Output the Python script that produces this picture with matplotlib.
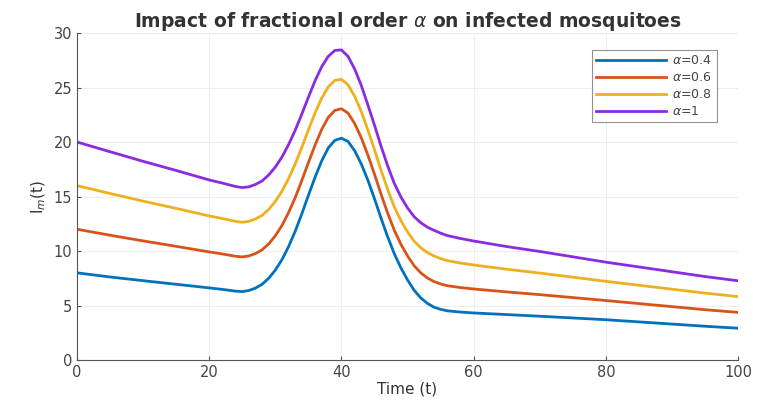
import matplotlib
matplotlib.use("Agg")
import matplotlib.pyplot as plt

# time points (finer around the peak)
t = [0, 5, 10, 15, 20, 22, 24, 25, 26, 27, 28, 29, 30, 31, 32, 33, 34, 35, 36, 37,
     38, 39, 40, 41, 42, 43, 44, 45, 46, 47, 48, 49, 50, 51, 52, 53, 54, 55, 56, 58,
     60, 65, 70, 75, 80, 85, 90, 95, 100]

im_04 = [8.0, 7.62, 7.28, 6.95, 6.62, 6.48, 6.32, 6.28, 6.38, 6.6, 6.95, 7.5, 8.25, 9.2,
         10.4, 11.8, 13.4, 15.1, 16.75, 18.25, 19.45, 20.15, 20.35, 20.05, 19.2, 18.0,
         16.5, 14.8, 13.0, 11.3, 9.75, 8.45, 7.35, 6.4, 5.7, 5.2, 4.85, 4.65, 4.52, 4.4,
         4.32, 4.17, 4.02, 3.86, 3.7, 3.5, 3.3, 3.1, 2.92]
im_06 = [12.0, 11.45, 10.93, 10.43, 9.92, 9.73, 9.52, 9.46, 9.55, 9.77, 10.11, 10.66,
         11.4, 12.34, 13.52, 14.89, 16.45, 18.1, 19.7, 21.13, 22.25, 22.9, 23.05, 22.65,
         21.7, 20.4, 18.8, 17.05, 15.2, 13.47, 11.9, 10.62, 9.55, 8.65, 8.0, 7.53, 7.2,
         6.98, 6.82, 6.65, 6.52, 6.25, 6.0, 5.73, 5.46, 5.18, 4.9, 4.62, 4.37]
im_08 = [16.0, 15.28, 14.58, 13.91, 13.22, 12.98, 12.72, 12.64, 12.72, 12.94, 13.27,
         13.82, 14.55, 15.48, 16.64, 17.98, 19.5, 21.1, 22.65, 24.01, 25.05, 25.65, 25.75,
         25.25, 24.2, 22.8, 21.1, 19.3, 17.4, 15.64, 14.05, 12.79, 11.75, 10.9, 10.3, 9.86,
         9.55, 9.31, 9.12, 8.9, 8.72, 8.33, 7.98, 7.6, 7.22, 6.86, 6.5, 6.14, 5.82]
im_10 = [20.0, 19.11, 18.23, 17.39, 16.52, 16.23, 15.92, 15.82, 15.89, 16.11, 16.43,
         16.98, 17.7, 18.62, 19.76, 21.07, 22.55, 24.1, 25.6, 26.89, 27.85, 28.4, 28.45,
         27.85, 26.7, 25.2, 23.4, 21.55, 19.6, 17.81, 16.2, 14.96, 13.95, 13.15, 12.6,
         12.19, 11.9, 11.64, 11.42, 11.15, 10.92, 10.41, 9.96, 9.47, 8.98, 8.54, 8.1,
         7.66, 7.27]

series = [im_04, im_06, im_08, im_10]
labels = [r'$\alpha$=0.4', r'$\alpha$=0.6', r'$\alpha$=0.8', r'$\alpha$=1']
colors = ['#0072BD', '#D95319', '#EDB120', '#8A2BE2']

fig = plt.figure(figsize=(7.57, 4.05), dpi=100)
ax = fig.add_axes([0.1017, 0.111, 0.8733, 0.8075])

for y, lab, c in zip(series, labels, colors):
    ax.plot(t, y, color=c, lw=2, label=lab)

ax.set_xlim(0, 100)
ax.set_ylim(0, 30)
ax.set_xticks([0, 20, 40, 60, 80, 100])
ax.set_yticks([0, 5, 10, 15, 20, 25, 30])
ax.grid(True, color='#ededed', lw=0.8)
ax.set_axisbelow(True)
for s in ['top', 'right']:
    ax.spines[s].set_visible(False)
for s in ['left', 'bottom']:
    ax.spines[s].set_color('#555555')
ax.tick_params(direction='in', length=3, colors='#555555', labelsize=10.5,
               labelcolor='#444444')

ax.set_title(r'Impact of fractional order $\alpha$ on infected mosquitoes',
             fontsize=13.5, fontweight='bold', color='#333333', pad=4)
ax.set_xlabel('Time (t)', fontsize=11, color='#333333', labelpad=1)
ax.set_ylabel(r'I$_m$(t)', fontsize=11, color='#333333', labelpad=4)

leg = ax.legend(loc='upper right', bbox_to_anchor=(0.977, 0.968), fontsize=9,
                frameon=True, fancybox=False, edgecolor='#777777',
                handlelength=5.6, borderpad=0.35, labelspacing=0.32, handletextpad=0.5)
leg.get_frame().set_linewidth(0.8)
for txt in leg.get_texts():
    txt.set_color('#444444')

fig.savefig('out.png', dpi=100)
